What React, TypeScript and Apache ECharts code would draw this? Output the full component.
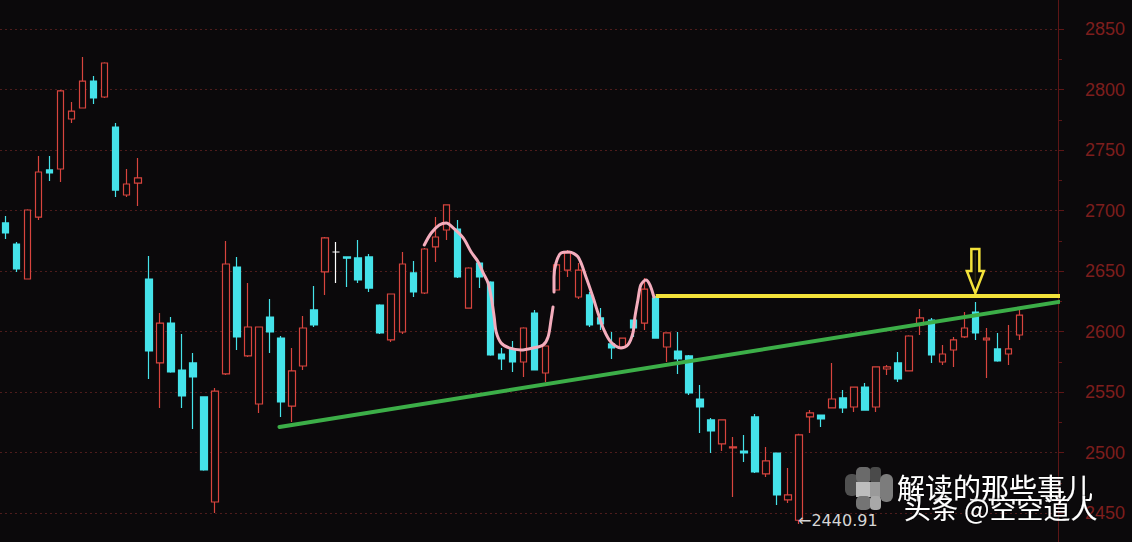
import React, { useEffect, useRef } from "react";
import * as echarts from "echarts";

// ---- data ----
const slotCount = 96; // 93 trading days + 3 empty slots at the right edge
const categories: string[] = Array.from({ length: slotCount }, (_, i) => `D${i + 1}`);

const opens = [
  2689.7, 2672.3, 2643.4, 2694.6, 2733.5, 2734.3, 2775.6, 2784.7, 2807.0, 2793.8,
  2769.0, 2712.8, 2722.7, 2643.4, 2574.0, 2607.0, 2568.2, 2574.0, 2545.9, 2459.1,
  2564.9, 2653.3, 2579.8, 2540.1, 2612.0, 2594.6, 2538.4, 2571.5, 2617.8, 2649.2,
  2665.7, 2661.6, 2660.8, 2661.6, 2621.9, 2593.0, 2599.6, 2648.4, 2631.8, 2669.9,
  2683.9, 2684.7, 2619.4, 2656.6, 2640.9, 2581.4, 2585.6, 2574.8, 2615.3, 2565.7,
  2634.3, 2650.8, 2628.5, 2630.2, 2611.2, 2589.7, 2587.2, 2609.5, 2607.0, 2627.7,
  2587.2, 2583.9, 2579.8, 2544.2, 2526.9, 2507.1, 2503.7, 2501.2, 2529.4, 2482.3,
  2499.6, 2460.8, 2444.0, 2529.4, 2531.0, 2536.8, 2545.1, 2537.6, 2554.1, 2537.6,
  2569.0, 2574.0, 2567.4, 2605.4, 2609.5, 2574.8, 2584.7, 2595.5, 2616.1, 2593.0,
  2585.6, 2581.4, 2597.1,
];
const closes = [
  2681.4, 2651.7, 2700.4, 2731.8, 2731.0, 2798.8, 2782.2, 2807.0, 2793.0, 2821.9,
  2716.9, 2721.9, 2726.9, 2583.9, 2607.0, 2566.6, 2546.7, 2562.4, 2485.6, 2550.8,
  2655.8, 2595.5, 2603.7, 2603.7, 2599.6, 2541.8, 2567.4, 2602.9, 2605.4, 2677.3,
  2665.7, 2660.6, 2642.6, 2635.9, 2598.8, 2631.0, 2655.8, 2632.7, 2668.2, 2678.1,
  2704.6, 2645.1, 2652.5, 2645.1, 2580.6, 2577.3, 2574.8, 2602.9, 2568.2, 2588.0,
  2655.0, 2664.9, 2650.8, 2605.4, 2606.2, 2586.4, 2594.6, 2602.9, 2635.1, 2594.6,
  2598.8, 2577.3, 2549.2, 2537.6, 2517.8, 2526.9, 2504.6, 2499.6, 2483.9, 2493.0,
  2464.9, 2464.9, 2514.5, 2532.7, 2527.7, 2544.2, 2536.8, 2554.1, 2535.1, 2570.7,
  2570.7, 2560.8, 2596.3, 2611.2, 2580.6, 2581.4, 2593.0, 2602.9, 2598.8, 2594.6,
  2575.6, 2585.6, 2613.6,
];
const lows = [
  2676.5, 2649.2, 2643.0, 2692.2, 2724.4, 2723.6, 2772.3, 2784.7, 2788.0, 2793.0,
  2711.2, 2711.2, 2703.7, 2560.8, 2536.8, 2566.0, 2536.8, 2519.5, 2485.0, 2450.0,
  2564.0, 2584.7, 2579.0, 2532.7, 2582.3, 2529.4, 2525.2, 2568.2, 2603.7, 2630.2,
  2640.1, 2636.8, 2640.1, 2632.7, 2598.0, 2591.3, 2597.9, 2628.5, 2631.0, 2657.5,
  2675.6, 2644.2, 2619.0, 2635.9, 2580.0, 2568.2, 2566.6, 2562.4, 2567.8, 2558.3,
  2634.0, 2645.1, 2626.9, 2603.7, 2601.3, 2577.3, 2587.0, 2595.5, 2601.3, 2594.0,
  2574.8, 2564.9, 2547.6, 2516.1, 2499.6, 2501.2, 2463.3, 2492.2, 2483.0, 2479.8,
  2456.6, 2458.3, 2440.91, 2516.1, 2521.1, 2536.5, 2532.7, 2533.5, 2535.0, 2533.5,
  2564.1, 2558.3, 2567.0, 2597.1, 2574.0, 2572.3, 2570.7, 2594.6, 2593.0, 2561.6,
  2575.0, 2572.3, 2593.0,
];
const highs = [
  2695.5, 2674.0, 2701.0, 2745.1, 2745.1, 2799.5, 2789.7, 2826.9, 2811.2, 2822.5,
  2772.3, 2734.3, 2743.4, 2662.4, 2615.3, 2612.0, 2597.9, 2582.3, 2546.5, 2553.3,
  2674.8, 2661.6, 2640.1, 2604.2, 2626.9, 2596.3, 2586.4, 2612.8, 2637.6, 2678.0,
  2674.0, 2662.0, 2675.6, 2664.1, 2622.5, 2631.5, 2665.7, 2658.3, 2669.0, 2694.6,
  2705.2, 2692.2, 2653.0, 2657.2, 2641.5, 2586.4, 2592.1, 2603.5, 2617.8, 2588.5,
  2656.0, 2667.4, 2656.6, 2632.7, 2619.4, 2599.6, 2595.0, 2610.0, 2644.2, 2629.4,
  2599.2, 2599.6, 2580.5, 2555.8, 2528.5, 2527.5, 2512.8, 2514.5, 2531.8, 2504.6,
  2500.0, 2487.2, 2515.5, 2535.1, 2531.5, 2574.0, 2551.7, 2554.5, 2557.5, 2571.2,
  2572.3, 2583.1, 2597.0, 2618.6, 2611.2, 2588.9, 2595.5, 2616.1, 2624.4, 2602.9,
  2598.8, 2605.4, 2617.8,
];

// y-axis ticks
const yMin = 2400;
const yMax = 2900;
const yStep = 50;

// hand-drawn annotations, in [day index, price]
const pinkCurveA: [number, number][] = [
  [38.0, 2671.5], [38.63, 2681.4], [39.36, 2688.0], [39.99, 2689.7], [40.62, 2685.6],
  [41.53, 2677.3], [42.25, 2665.7], [42.89, 2657.5], [43.34, 2648.4], [43.79, 2640.1],
  [44.07, 2628.5], [44.34, 2612.0], [44.52, 2599.6], [44.97, 2590.5], [45.7, 2586.4],
  [46.78, 2584.7], [47.87, 2586.4], [48.78, 2588.9], [49.23, 2595.5], [49.5, 2609.5],
  [49.68, 2620.3],
];
const pinkCurveB: [number, number][] = [
  [49.77, 2632.7], [49.77, 2645.1], [49.95, 2656.6], [50.41, 2664.9], [51.13, 2665.7],
  [51.95, 2661.6], [52.67, 2645.1], [53.3, 2628.5], [53.76, 2615.3], [54.3, 2601.3],
  [54.93, 2591.3], [55.84, 2586.4], [56.47, 2588.9], [56.93, 2598.8], [57.11, 2612.0],
  [57.38, 2626.0], [57.65, 2638.5], [58.11, 2642.6], [58.47, 2638.5], [58.83, 2628.5],
];
const resistanceLine: [number, number][] = [[59.0, 2629.4], [97.96, 2629.4]];
const trendLine: [number, number][] = [[24.86, 2521.1], [97.78, 2627.7]];
const arrowTarget: [number, number] = [88, 2631.8];
const lowMark: [number, number] = [72, 2440.91];
const lowLabel = "←2440.91";
const watermarkTop = "解读的那些事儿";
const watermarkBottom = "头条 @空空道人";

const BG = "#0b090b";
const UP = "#d8443e";
const DOWN = "#45e3ea";
const AXIS_RED = "#5e1616";

// the chart canvas is taller than the page so that the 2400 / 2900 ends fall just outside it
const SHIFT = 40;
const CHART_H = 622;

export default function App() {
  const ref = useRef<HTMLDivElement>(null);

  useEffect(() => {
    document.body.style.margin = "0";
    document.body.style.background = BG;
    document.body.style.overflow = "hidden";
    if (!ref.current) return;
    const chart = echarts.init(ref.current, undefined, { renderer: "svg" });

    const candles = opens.map((o, i) => [o, closes[i], lows[i], highs[i]]);

    chart.setOption({
      animation: false,
      backgroundColor: BG,
      grid: { left: -2, right: 74, top: 8.5, bottom: 8.5 },
      xAxis: [
        { type: "category", data: categories, show: false, boundaryGap: true },
        { type: "value", min: -0.5, max: slotCount - 0.5, show: false },
      ],
      yAxis: {
        type: "value",
        position: "right",
        min: yMin,
        max: yMax,
        interval: yStep,
        axisLine: { show: true, onZero: false, lineStyle: { color: AXIS_RED, width: 1 } },
        axisTick: { show: true, length: 6, lineStyle: { color: AXIS_RED } },
        minorTick: { show: true, splitNumber: 2, length: 4, lineStyle: { color: AXIS_RED } },
        splitLine: { show: true, lineStyle: { color: "#4e1c1c", type: [2, 3], width: 1 } },
        axisLabel: {
          color: "#7e1e1d",
          fontSize: 18,
          fontFamily: "Liberation Sans",
          margin: 27,
          formatter: (v: number) => (v < 2450 || v > 2850 ? "" : String(v)),
        },
      },
      series: [
        {
          type: "candlestick",
          data: candles,
          xAxisIndex: 0,
          yAxisIndex: 0,
          barWidth: 7,
          z: 2,
          itemStyle: {
            color: BG,
            color0: DOWN,
            borderColor: UP,
            borderColor0: DOWN,
            borderColorDoji: "#ffffff",
            borderWidth: 1.2,
          },
        },
        {
          type: "line",
          xAxisIndex: 1,
          data: pinkCurveA,
          smooth: 0.3,
          symbol: "none",
          z: 4,
          lineStyle: { color: "#f4adbd", width: 3, cap: "round" },
        },
        {
          type: "line",
          xAxisIndex: 1,
          data: pinkCurveB,
          smooth: 0.3,
          symbol: "none",
          z: 4,
          lineStyle: { color: "#f4adbd", width: 3, cap: "round" },
        },
        {
          type: "line",
          xAxisIndex: 1,
          data: trendLine,
          symbol: "none",
          clip: false,
          z: 5,
          lineStyle: { color: "#3cae48", width: 4, cap: "round" },
        },
        {
          type: "line",
          xAxisIndex: 1,
          data: resistanceLine,
          symbol: "none",
          clip: false,
          z: 6,
          lineStyle: { color: "#f3e23a", width: 4 },
        },
      ],
    });

    const tip = chart.convertToPixel({ xAxisIndex: 0, yAxisIndex: 0 }, arrowTarget) as number[];
    const low = chart.convertToPixel({ xAxisIndex: 0, yAxisIndex: 0 }, lowMark) as number[];

    const arrowShape = [
      [-4, -44], [4, -44], [4, -22], [8.5, -22], [0, 0], [-8.5, -22], [-4, -22],
    ].map(([dx, dy]) => [tip[0] + dx, tip[1] + dy]);

    chart.setOption({
      graphic: [
        {
          type: "polygon",
          shape: { points: arrowShape },
          style: { fill: "#0d0b08", stroke: "#f3e23a", lineWidth: 2.5 },
          z: 100,
        },
        {
          type: "line",
          shape: { x1: tip[0], y1: tip[1] - 40, x2: tip[0], y2: tip[1] - 10 },
          style: { stroke: "#2a2510", lineWidth: 1.5 },
          z: 101,
        },
        {
          type: "text",
          x: low[0] - 1,
          y: low[1] - 3,
          style: {
            text: lowLabel,
            fill: "#d6d6d6",
            font: "16px 'DejaVu Sans'",
            verticalAlign: "middle",
            align: "left",
          },
          z: 100,
        },
        {
          type: "group",
          z: 100,
          y: SHIFT,
          children: [
            { type: "rect", shape: { x: 845, y: 474, width: 14, height: 22, r: 6 }, style: { fill: "#505050" } },
            { type: "rect", shape: { x: 856, y: 467, width: 15, height: 16, r: 5 }, style: { fill: "#6a6a6a" } },
            { type: "rect", shape: { x: 856, y: 482, width: 15, height: 15 }, style: { fill: "#bdbdbd" } },
            { type: "rect", shape: { x: 856, y: 496, width: 15, height: 14, r: 5 }, style: { fill: "#747474" } },
            { type: "rect", shape: { x: 870, y: 467, width: 11, height: 16, r: 4 }, style: { fill: "#4a4a4a" } },
            { type: "rect", shape: { x: 870, y: 482, width: 11, height: 15 }, style: { fill: "#9a9a9a" } },
            { type: "rect", shape: { x: 870, y: 496, width: 11, height: 14, r: 4 }, style: { fill: "#a8a8a8" } },
            { type: "rect", shape: { x: 880, y: 474, width: 13, height: 28, r: 6 }, style: { fill: "#7c7c7c" } },
          ],
        },
        {
          type: "text",
          x: 897,
          y: 473 + SHIFT,
          style: {
            text: watermarkTop,
            fill: "#ffffff",
            font: "28px 'Noto Sans CJK SC'",
            textShadowColor: "rgba(0,0,0,0.8)",
            textShadowBlur: 2,
          },
          z: 110,
        },
        {
          type: "text",
          x: 904,
          y: 494 + SHIFT,
          style: {
            text: watermarkBottom,
            fill: "#ffffff",
            font: "27px 'Noto Sans CJK SC'",
            textShadowColor: "rgba(0,0,0,0.8)",
            textShadowBlur: 2,
          },
          z: 111,
        },
      ],
    });

    return () => chart.dispose();
  }, []);

  return (
    <div style={{ position: "relative", width: 1132, height: 542, overflow: "hidden", background: BG }}>
      <div ref={ref} style={{ position: "absolute", left: 0, top: -SHIFT, width: 1132, height: CHART_H }} />
    </div>
  );
}
